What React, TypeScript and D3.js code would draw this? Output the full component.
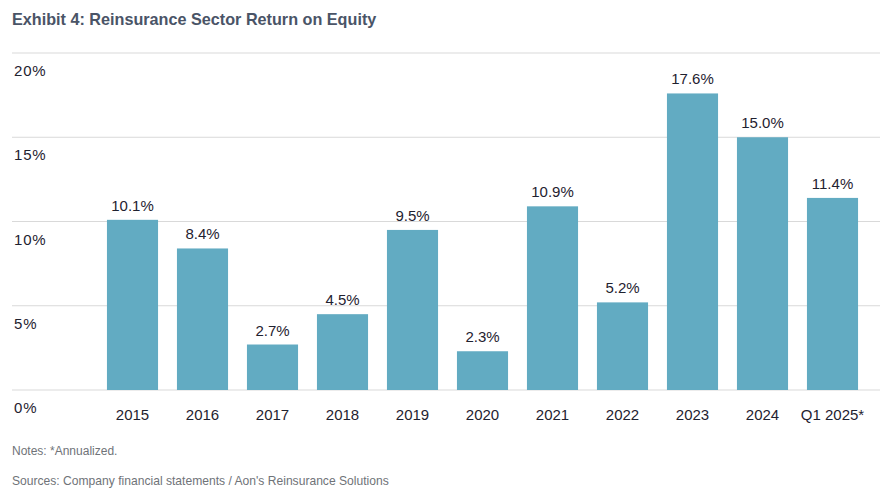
import React from "react";
import * as d3 from "d3";

const categories: string[] = ["2015", "2016", "2017", "2018", "2019", "2020", "2021", "2022", "2023", "2024", "Q1 2025*"];
const roeValues: number[] = [10.1, 8.4, 2.7, 4.5, 9.5, 2.3, 10.9, 5.2, 17.6, 15.0, 11.4];
const yTicks: number[] = [0, 5, 10, 15, 20];

const W = 896;
const H = 492;
const FONT = "'Liberation Sans', Arial, Helvetica, sans-serif";

export default function App() {
    const x = d3.scaleBand<string>()
        .domain(categories)
        .range([97.5, 867.5])
        .paddingInner(0.27)
        .paddingOuter(0.135);

    const y = d3.scaleLinear()
        .domain([0, 20])
        .range([390, 53]);

    return (
        <svg width={W} height={H} style={{position: "absolute", left: 0, top: 0, background: "#fff"}} fontFamily={FONT}>
            <text x={12} y={25} fontSize={16.2} fontWeight="bold" fill="#4a5467">
                Exhibit 4: Reinsurance Sector Return on Equity
            </text>

            {yTicks.map(t => (
                <g key={t}>
                    <line x1={12} x2={880} y1={y(t)} y2={y(t)} stroke="#d9d9d9" strokeWidth={1.2} />
                    <text x={14} y={y(t) + 23} fontSize={15} letterSpacing={0.8} fill="#1f2230">{t}%</text>
                </g>
            ))}

            {categories.map((c, i) => (
                <g key={c}>
                    <rect x={x(c)} y={y(roeValues[i])} width={x.bandwidth()} height={y(0) - y(roeValues[i])} fill="#62abc2" />
                    <text x={x(c)! + x.bandwidth() / 2} y={y(roeValues[i]) - 9} fontSize={15} textAnchor="middle" fill="#1f2230">
                        {roeValues[i].toFixed(1)}%
                    </text>
                    <text x={x(c)! + x.bandwidth() / 2} y={y(0) + 30} fontSize={15} textAnchor="middle" fill="#1f2230">
                        {c}
                    </text>
                </g>
            ))}

            <text x={12} y={455} fontSize={12} fill="#6f7378">Notes: *Annualized.</text>
            <text x={12} y={485} fontSize={12.1} fill="#6f7378">Sources: Company financial statements / Aon's Reinsurance Solutions</text>
        </svg>
    );
}
